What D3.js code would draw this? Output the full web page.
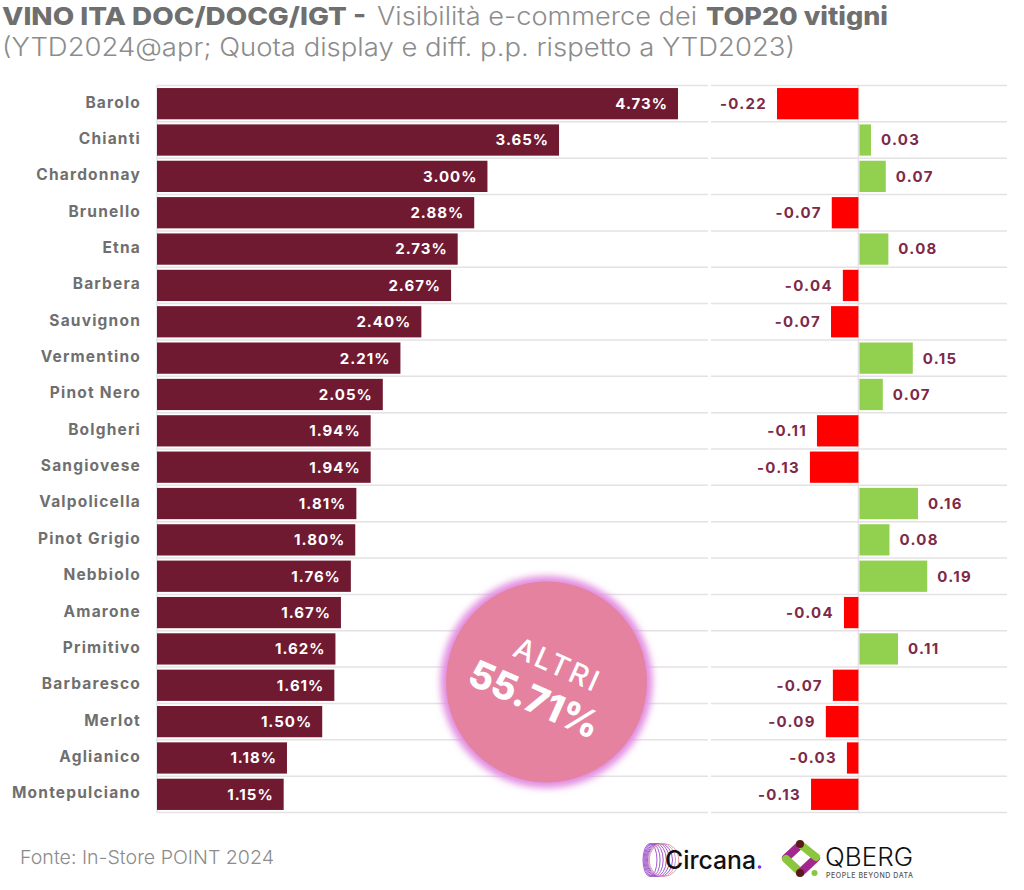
<!DOCTYPE html>
<html lang="en">
<head>
<meta charset="utf-8">
<title>Visibilità e-commerce TOP20 vitigni</title>
<script src="https://cdnjs.cloudflare.com/ajax/libs/d3/7.8.5/d3.min.js"></script>
<style>
  html, body { margin: 0; background: #fff; }
  text { font-family: Inter, "Open Sans", sans-serif; }
</style>
</head>
<body>
<div id="chart"></div>
<script>
// values
var vitigni = ["Barolo", "Chianti", "Chardonnay", "Brunello", "Etna", "Barbera", "Sauvignon",
  "Vermentino", "Pinot Nero", "Bolgheri", "Sangiovese", "Valpolicella", "Pinot Grigio",
  "Nebbiolo", "Amarone", "Primitivo", "Barbaresco", "Merlot", "Aglianico", "Montepulciano"];
var quota = [4.73, 3.65, 3.00, 2.88, 2.73, 2.67, 2.40, 2.21, 2.05, 1.94, 1.94, 1.81, 1.80,
  1.76, 1.67, 1.62, 1.61, 1.50, 1.18, 1.15];
var diff = [-0.22, 0.034, 0.074, -0.072, 0.081, -0.042, -0.074, 0.147, 0.066, -0.112, -0.131,
  0.161, 0.084, 0.186, -0.039, 0.107, -0.069, -0.088, -0.031, -0.128];
var altri = "55.71%";

var wine = "#701a32", grey = "#6f6f6f", lightGrey = "#8c8c8c", gridCol = "#e4e2e4";

var svg = d3.select("#chart").append("svg")
    .attr("width", 1024).attr("height", 890)
    .style("display", "block");

var y = d3.scaleBand().domain(vitigni).range([85.5, 812.5]).paddingInner(0.14).paddingOuter(0.07);
var x = d3.scaleLinear().domain([0, 4.73]).range([157, 678]);
var xd = d3.scaleLinear().domain([-0.22, 0.19]).range([777, 928.7]);

// title in three pieces, stretched to the width of the wider original typeface
function titlePart(txt, x0, w, weight, col) {
  svg.append("text").attr("x", x0).attr("y", 25)
      .attr("font-size", 25).attr("font-weight", weight).attr("fill", col)
      .attr("textLength", w).attr("lengthAdjust", "spacingAndGlyphs")
      .text(txt);
}
titlePart("VINO ITA DOC/DOCG/IGT -", 2, 364, 800, grey);
titlePart("Visibilità e-commerce dei", 377, 320, 300, lightGrey);
titlePart("TOP20 vitigni", 706, 182, 800, grey);
svg.append("text").attr("x", 2).attr("y", 56)
    .attr("font-size", 25).attr("font-weight", 300).attr("fill", lightGrey)
    .attr("textLength", 793).attr("lengthAdjust", "spacingAndGlyphs")
    .text("(YTD2024@apr; Quota display e diff. p.p. rispetto a YTD2023)");

// grid: one line between each row, split in two parts
var gridY = [85.5].concat(vitigni.map(function(d) { return y(d) + y.bandwidth() + y.step() * 0.07; }));
[[157, 708], [711, 1007]].forEach(function(seg) {
  svg.append("g").selectAll("line").data(gridY).enter().append("line")
      .attr("x1", seg[0]).attr("x2", seg[1])
      .attr("y1", function(d) { return d; }).attr("y2", function(d) { return d; })
      .attr("stroke", gridCol).attr("stroke-width", 1.5);
});
svg.append("line").attr("x1", x(0)).attr("x2", x(0)).attr("y1", 85.5).attr("y2", 812.5)
    .attr("stroke", gridCol).attr("stroke-width", 1.5);
svg.append("line").attr("x1", xd(0)).attr("x2", xd(0)).attr("y1", 85.5).attr("y2", 812.5)
    .attr("stroke", gridCol).attr("stroke-width", 1.5);

// category labels
svg.append("g").selectAll("text").data(vitigni).enter().append("text")
    .attr("x", 141)
    .attr("y", function(d) { return y(d) + y.bandwidth() / 2 - 1.5; })
    .attr("dy", "0.35em").attr("text-anchor", "end")
    .attr("font-size", 15.5).attr("font-weight", 700).attr("fill", grey)
    .attr("letter-spacing", 1.2)
    .text(function(d) { return d; });

// share bars
svg.append("g").selectAll("rect").data(quota).enter().append("rect")
    .attr("x", x(0))
    .attr("y", function(d, i) { return y(vitigni[i]); })
    .attr("width", function(d) { return x(d) - x(0); })
    .attr("height", y.bandwidth())
    .attr("fill", wine);
svg.append("g").selectAll("text").data(quota).enter().append("text")
    .attr("x", function(d) { return x(d) - 10; })
    .attr("y", function(d, i) { return y(vitigni[i]) + y.bandwidth() / 2; })
    .attr("dy", "0.36em").attr("text-anchor", "end")
    .attr("font-size", 15).attr("font-weight", 700).attr("fill", "#fff")
    .attr("letter-spacing", 1)
    .text(function(d) { return d.toFixed(2) + "%"; });

// diff bars
svg.append("g").selectAll("rect").data(diff).enter().append("rect")
    .attr("x", function(d) { return Math.min(xd(d), xd(0)) + (d > 0 ? 1 : 0); })
    .attr("y", function(d, i) { return y(vitigni[i]); })
    .attr("width", function(d) { return Math.abs(xd(d) - xd(0)) - (d > 0 ? 1 : 0); })
    .attr("height", y.bandwidth())
    .attr("fill", function(d) { return d < 0 ? "#ff0000" : "#92d050"; });
svg.append("g").selectAll("text").data(diff).enter().append("text")
    .attr("x", function(d) { return d < 0 ? xd(d) - 10 : xd(d) + 10; })
    .attr("y", function(d, i) { return y(vitigni[i]) + y.bandwidth() / 2; })
    .attr("dy", "0.36em")
    .attr("text-anchor", function(d) { return d < 0 ? "end" : "start"; })
    .attr("font-size", 15).attr("font-weight", 700).attr("fill", "#7d2a48")
    .attr("letter-spacing", 1.3)
    .text(function(d) { return d.toFixed(2); });

// "altri" bubble
var defs = svg.append("defs");
defs.append("filter").attr("id", "glow").attr("x", "-20%").attr("y", "-20%").attr("width", "140%").attr("height", "140%")
    .append("feGaussianBlur").attr("stdDeviation", 3.5);
svg.append("circle").attr("cx", 546.5).attr("cy", 682).attr("r", 106)
    .attr("fill", "#e28ce0").attr("filter", "url(#glow)");
svg.append("circle").attr("cx", 546.5).attr("cy", 682).attr("r", 100.5).attr("fill", "#e5829f");
var bubble = svg.append("g").attr("transform", "translate(546.5,682) rotate(24)").attr("fill", "#fff").attr("text-anchor", "middle");
bubble.append("text").attr("x", 3).attr("y", -10).attr("font-size", 29).attr("font-weight", 500).attr("letter-spacing", 2.5).text("ALTRI");
bubble.append("text").attr("x", -4).attr("y", 34).attr("font-size", 38).attr("font-weight", 800).text(altri);

// source
svg.append("text").attr("x", 20).attr("y", 864)
    .attr("font-size", 19).attr("font-weight", 300).attr("fill", lightGrey)
    .attr("textLength", 254).attr("lengthAdjust", "spacingAndGlyphs")
    .text("Fonte: In-Store POINT 2024");

// Circana logo
var ci = svg.append("g");
d3.range(8).forEach(function(i) {
  ci.append("ellipse").attr("cx", 650 + i * 2).attr("cy", 860).attr("rx", 7 + i * 1.1).attr("ry", 16.5)
      .attr("fill", "none").attr("stroke", i > 5 ? "#dca0b4" : "#a05ad0").attr("stroke-width", 1);
});
ci.append("text").attr("x", 665).attr("y", 869).attr("font-size", 25).attr("font-weight", 500).attr("fill", "#111")
    .attr("textLength", 91).attr("lengthAdjust", "spacingAndGlyphs").text("Circana");
ci.append("circle").attr("cx", 759.5).attr("cy", 867).attr("r", 1.8).attr("fill", "#8a2be2");

// QBERG logo
var qb = svg.append("g").attr("fill", "none").attr("stroke-width", 8).attr("stroke-linecap", "round");
qb.append("line").attr("x1", 800).attr("y1", 845).attr("x2", 786).attr("y2", 858).attr("stroke", "#a3278f");
qb.append("line").attr("x1", 786).attr("y1", 859).attr("x2", 800).attr("y2", 872).attr("stroke", "#8cc63f");
qb.append("line").attr("x1", 801).attr("y1", 872).attr("x2", 816).attr("y2", 858).attr("stroke", "#a3278f");
qb.append("line").attr("x1", 801).attr("y1", 845).attr("x2", 816).attr("y2", 857).attr("stroke", "#8cc63f");
svg.append("circle").attr("cx", 800).attr("cy", 844).attr("r", 4).attr("fill", "#5a1a1a");
svg.append("circle").attr("cx", 800).attr("cy", 873).attr("r", 4).attr("fill", "#5a1a1a");
svg.append("circle").attr("cx", 814.5).attr("cy", 873).attr("r", 3).attr("fill", "#8cc63f");
svg.append("text").attr("x", 825).attr("y", 866).attr("font-size", 25).attr("font-weight", 300).attr("fill", "#111")
    .attr("textLength", 88).attr("lengthAdjust", "spacingAndGlyphs").text("QBERG");
svg.append("text").attr("x", 826).attr("y", 878).attr("font-size", 7).attr("font-weight", 500).attr("fill", "#555")
    .attr("textLength", 87).text("PEOPLE BEYOND DATA");
</script>
</body>
</html>
